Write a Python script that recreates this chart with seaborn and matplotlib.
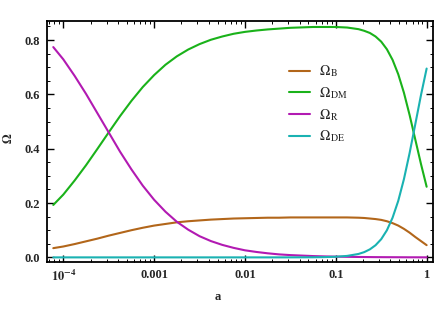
"""Density parameters vs scale factor, Mathematica-style frame."""

import matplotlib
matplotlib.use('Agg')
import matplotlib.pyplot as plt
import matplotlib.ticker as mticker
import seaborn as sns
import pandas as pd

# scale factor samples (log10 a) and values
log_a = [-4.11, -4.0, -3.875, -3.75, -3.625, -3.5, -3.375, -3.25, -3.125, -3.0,
         -2.875, -2.75, -2.625, -2.5, -2.375, -2.25, -2.125, -2.0, -1.875, -1.75,
         -1.625, -1.5, -1.25, -1.125, -1.0, -0.875, -0.75, -0.6875, -0.625,
         -0.5625, -0.5, -0.4375, -0.375, -0.3125, -0.25, -0.1875, -0.125,
         -0.0625, 0.0]
omega_b = [0.034, 0.040, 0.049, 0.059, 0.069, 0.080, 0.090, 0.100, 0.109, 0.117,
           0.123, 0.129, 0.133, 0.136, 0.139, 0.141, 0.143, 0.144, 0.145, 0.146,
           0.146, 0.147, 0.147, 0.147, 0.147, 0.147, 0.146, 0.145, 0.143,
           0.141, 0.138, 0.133, 0.126, 0.117, 0.105, 0.091, 0.075,
           0.060, 0.045]
omega_dm = [0.193, 0.231, 0.283, 0.339, 0.399, 0.460, 0.520, 0.576, 0.627, 0.671,
            0.709, 0.740, 0.765, 0.785, 0.801, 0.813, 0.823, 0.830, 0.835, 0.839,
            0.842, 0.845, 0.848, 0.848, 0.848, 0.846, 0.840, 0.834, 0.826,
            0.813, 0.794, 0.766, 0.727, 0.674, 0.606, 0.524, 0.434,
            0.344, 0.260]
omega_r = [0.774, 0.729, 0.668, 0.602, 0.531, 0.460, 0.389, 0.324, 0.264, 0.212,
           0.168, 0.131, 0.102, 0.078, 0.060, 0.046, 0.035, 0.026, 0.020, 0.015,
           0.011, 0.0084, 0.0048, 0.0036, 0.0027, 0.0020, 0.0015, 0.0013, 0.0011,
           0.0009, 0.0008, 0.0007, 0.0006, 0.0005, 0.0004, 0.0003, 0.0003,
           0.0002, 0.0001]
omega_de = [0.0, 0.0, 0.0, 0.0, 0.0, 0.0, 0.0, 0.0, 0.0, 0.0,
            0.0, 0.0, 0.0, 0.0, 0.0, 0.0, 0.0, 0.0, 0.0, 0.0,
            0.0, 0.0001, 0.0004, 0.001, 0.0023, 0.0054, 0.0126, 0.0193, 0.0295,
            0.0447, 0.067, 0.0998, 0.146, 0.208, 0.288, 0.384, 0.490,
            0.597, 0.695]

series = {
    r'$\Omega_{\,\mathrm{B}}$': (omega_b, '#B2661A'),
    r'$\Omega_{\,\mathrm{DM}}$': (omega_dm, '#1AB21A'),
    r'$\Omega_{\,\mathrm{R}}$': (omega_r, '#B21AB2'),
    r'$\Omega_{\,\mathrm{DE}}$': (omega_de, '#1AB2B2'),
}

rows = []
for name, (vals, _) in series.items():
    for la, v in zip(log_a, vals):
        rows.append({'a': 10 ** la, 'omega': v, 'comp': name})
df = pd.DataFrame(rows)

sns.set_style('ticks')
plt.rcParams['font.family'] = ['Liberation Serif', 'DejaVu Serif']
plt.rcParams['mathtext.fontset'] = 'stix'

fig = plt.figure(figsize=(4.36, 3.09), dpi=100)
ax = fig.add_axes([0.1085, 0.153, 0.885, 0.779])

palette = {name: c for name, (_, c) in series.items()}
sns.lineplot(data=df, x='a', y='omega', hue='comp', palette=palette,
             linewidth=1.5, ax=ax, legend=True)

ax.set_xscale('log')
ax.set_xlim(6.67e-5, 1.18)
ax.set_ylim(-0.016, 0.87)

ax.xaxis.set_major_locator(mticker.FixedLocator([1e-4, 1e-3, 1e-2, 1e-1, 1]))
ax.xaxis.set_major_formatter(mticker.FixedFormatter(
    [r'$\mathbf{10^{-4}}$', '0.001', '0.01', '0.1', '1']))
ax.xaxis.set_minor_locator(mticker.LogLocator(base=10, subs=range(2, 10), numticks=20))
ax.xaxis.set_minor_formatter(mticker.NullFormatter())
ax.yaxis.set_major_locator(mticker.MultipleLocator(0.2))
ax.yaxis.set_major_formatter(mticker.FormatStrFormatter('%.1f'))
ax.yaxis.set_minor_locator(mticker.MultipleLocator(0.05))

ax.tick_params(which='both', direction='in', top=True, right=True,
               labelsize=9, color='black', pad=5)
ax.tick_params(which='major', length=5, width=1.0)
ax.tick_params(which='minor', length=2.5, width=0.7)
for lab in ax.get_xticklabels() + ax.get_yticklabels():
    lab.set_fontweight('bold')

for sp in ax.spines.values():
    sp.set_linewidth(1.3)
    sp.set_color('black')

ax.set_xlabel('a', fontsize=9, fontweight='bold')
ax.set_ylabel(r'$\mathbf{\Omega}$', fontsize=9)
ax.xaxis.set_label_coords(0.442, -0.12)
ax.yaxis.set_label_coords(-0.085, 0.514)

leg = ax.legend(loc='upper left', bbox_to_anchor=(0.595, 0.875), frameon=False,
                fontsize=10, handlelength=1.5, handletextpad=0.6, labelspacing=0.42)
for line in leg.get_lines():
    line.set_linewidth(1.5)

fig.savefig('out.png', dpi=100)
